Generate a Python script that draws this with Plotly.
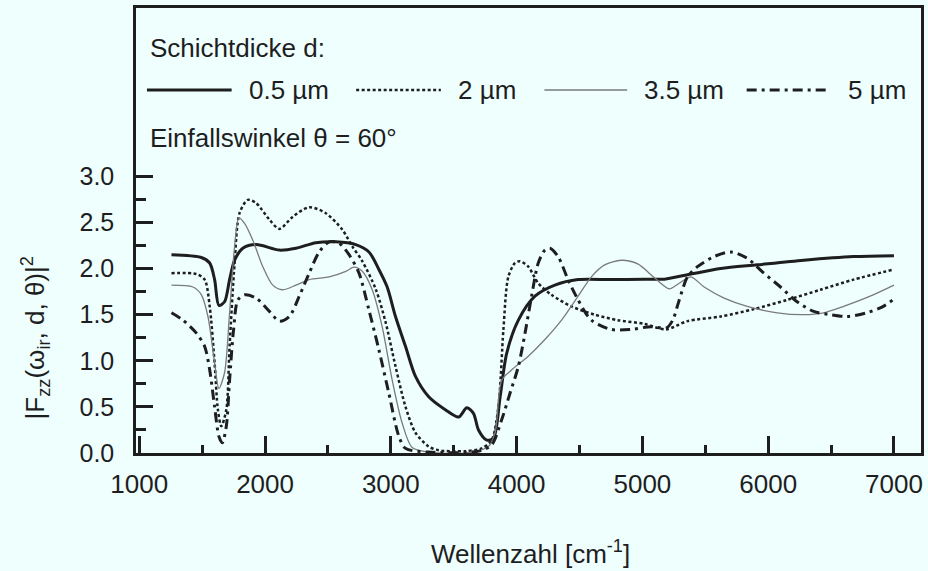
import plotly.graph_objects as go

# Wavenumber (cm^-1) and |F_zz|^2 for four layer thicknesses, incidence angle 60 deg
wn_05 = [1256, 1494, 1560, 1599, 1633, 1678, 1718, 1758, 1823, 1929, 2114, 2246, 2404, 2563,
         2721, 2826, 2905, 2971, 3037, 3117, 3196, 3301, 3433, 3539, 3604, 3657, 3697, 3763,
         3816, 3869, 3921, 4014, 4146, 4304, 4489, 4752, 5016, 5175, 5385, 5623, 5913, 6283,
         6679, 7000]
f_05 = [2.15, 2.12, 2.06, 1.88, 1.60, 1.64, 1.88, 2.09, 2.22, 2.26, 2.20, 2.22, 2.28, 2.29,
        2.26, 2.18, 1.99, 1.80, 1.48, 1.155, 0.83, 0.61, 0.47, 0.39, 0.49, 0.43, 0.25, 0.14,
        0.16, 0.61, 1.08, 1.44, 1.70, 1.82, 1.88, 1.88, 1.885, 1.885, 1.94, 2.00, 2.04, 2.09,
        2.13, 2.14]

wn_2 = [1256, 1454, 1520, 1560, 1599, 1625, 1652, 1692, 1718, 1758, 1797, 1863, 1929, 2035,
        2114, 2219, 2351, 2483, 2615, 2694, 2773, 2879, 2958, 3037, 3117, 3196, 3301, 3380,
        3592, 3723, 3802, 3855, 3895, 3934, 3987, 4027, 4093, 4172, 4277, 4435, 4620, 4805,
        5016, 5187, 5359, 5623, 5887, 6151, 6415, 6679, 7000]
f_2 = [1.95, 1.94, 1.88, 1.59, 0.975, 0.47, 0.29, 0.47, 1.155, 2.06, 2.60, 2.745, 2.71, 2.53,
       2.43, 2.56, 2.665, 2.60, 2.42, 2.24, 2.08, 1.78, 1.42, 0.94, 0.50, 0.22, 0.07, 0.03,
       0.02, 0.05, 0.14, 0.50, 1.34, 1.91, 2.06, 2.08, 2.02, 1.84, 1.715, 1.59, 1.50, 1.44,
       1.40, 1.34, 1.43, 1.48, 1.56, 1.66, 1.77, 1.88, 1.99]

wn_35 = [1256, 1427, 1494, 1546, 1599, 1633, 1678, 1718, 1758, 1792, 1837, 1902, 1982, 2061,
         2140, 2246, 2351, 2510, 2642, 2707, 2773, 2852, 2931, 3011, 3090, 3169, 3300, 3600,
         3776, 3829, 3881, 3960, 4093, 4225, 4357, 4489, 4594, 4700, 4831, 4963, 5096, 5214,
         5293, 5385, 5491, 5650, 5834, 6072, 6283, 6441, 6600, 6811, 7000]
f_35 = [1.82, 1.80, 1.715, 1.48, 0.975, 0.70, 0.87, 1.52, 2.24, 2.55, 2.49, 2.31, 2.02, 1.82,
        1.77, 1.82, 1.88, 1.91, 1.97, 2.015, 1.97, 1.77, 1.37, 0.79, 0.325, 0.06, 0.01, 0.0,
        0.07, 0.22, 0.79, 0.90, 1.05, 1.23, 1.44, 1.70, 1.91, 2.04, 2.09, 2.05, 1.90, 1.78,
        1.84, 1.91, 1.80, 1.68, 1.59, 1.52, 1.50, 1.52, 1.59, 1.70, 1.82]

wn_5 = [1256, 1348, 1454, 1520, 1560, 1599, 1633, 1660, 1692, 1718, 1750, 1784, 1837, 1929,
        2035, 2114, 2193, 2272, 2351, 2430, 2510, 2589, 2668, 2747, 2826, 2905, 2984, 3064,
        3117, 3300, 3697, 3802, 3881, 3948, 4014, 4067, 4119, 4172, 4225, 4265, 4330, 4409,
        4489, 4594, 4752, 4910, 5069, 5190, 5241, 5293, 5359, 5438, 5570, 5702, 5834, 5966,
        6098, 6230, 6362, 6494, 6626, 6784, 6916, 7000]
f_5 = [1.52, 1.44, 1.30, 1.155, 0.90, 0.50, 0.18, 0.11, 0.29, 0.79, 1.34, 1.66, 1.715, 1.68,
       1.535, 1.43, 1.48, 1.70, 1.95, 2.18, 2.29, 2.275, 2.15, 1.95, 1.55, 1.12, 0.65, 0.18,
       0.05, 0.01, 0.02, 0.09, 0.36, 0.65, 0.94, 1.30, 1.70, 2.06, 2.20, 2.22, 2.13, 1.88,
       1.66, 1.44, 1.34, 1.34, 1.37, 1.355, 1.44, 1.66, 1.91, 2.02, 2.13, 2.18, 2.11, 1.95,
       1.80, 1.64, 1.535, 1.50, 1.48, 1.52, 1.59, 1.67]

thickness_labels = ["0.5 \u00b5m", "2 \u00b5m", "3.5 \u00b5m", "5 \u00b5m"]
x_ticks = [1000, 2000, 3000, 4000, 5000, 6000, 7000]
x_minor = [1500, 2500, 3500, 4500, 5500, 6500]
y_ticks = [0.0, 0.5, 1.0, 1.5, 2.0, 2.5, 3.0]
y_minor = [0.25, 0.75, 1.25, 1.75, 2.25, 2.75]

INK = "#1e1e1e"
BG = "#eefffe"
FONT = "Liberation Sans, Arial, Helvetica, sans-serif"

W, H = 928, 571
ML, MR, MT, MB = 136, 4, 8, 118
PW, PH = W - ML - MR, H - MT - MB

styles = [
    dict(color=INK, width=3, dash="solid"),
    dict(color=INK, width=2.5, dash="3px,2.5px"),
    dict(color="#7a7a7a", width=1.3, dash="solid"),
    dict(color=INK, width=3, dash="10px,5px,3px,5px"),
]
series = [(wn_05, f_05), (wn_2, f_2), (wn_35, f_35), (wn_5, f_5)]


def px(xp):
    return (xp - ML) / PW


def py(yp):
    return (H - MB - yp) / PH


fig = go.Figure()
for (xs, ys), st, name in zip(series, styles, thickness_labels):
    fig.add_trace(go.Scatter(
        x=xs, y=ys, mode="lines", name=name, showlegend=False,
        line=dict(color=st["color"], width=st["width"], dash=st["dash"],
                  shape="spline", smoothing=0.8),
    ))

# legend block drawn inside the frame
annotations = [
    dict(text="Schichtdicke d:", x=px(148), y=py(48)),
    dict(text="Einfallswinkel \u03b8 = 60\u00b0", x=px(148), y=py(138)),
]
key_spans = [(147, 232, 247), (357, 442, 457), (546, 629, 644), (749, 832, 849)]
shapes = []
for (x0, x1, xt), st, name in zip(key_spans, styles, thickness_labels):
    shapes.append(dict(type="line", xref="paper", yref="paper",
                       x0=px(x0), x1=px(x1), y0=py(90), y1=py(90),
                       line=dict(color=st["color"], width=st["width"], dash=st["dash"])))
    annotations.append(dict(text=name, x=px(xt), y=py(90)))
for a in annotations:
    a.update(xref="paper", yref="paper", xanchor="left", yanchor="middle",
             showarrow=False, font=dict(family=FONT, size=26, color=INK))

# axis titles
annotations.append(dict(
    text="|F<sub>zz</sub>(\u03c9<sub>ir</sub>, d, \u03b8)|<sup>2</sup>",
    x=px(35), y=py(338), xref="paper", yref="paper", textangle=-90,
    xanchor="center", yanchor="middle", showarrow=False,
    font=dict(family=FONT, size=26, color=INK)))
annotations.append(dict(
    text="Wellenzahl [cm<sup>-1</sup>]",
    x=px(532), y=py(552), xref="paper", yref="paper",
    xanchor="center", yanchor="middle", showarrow=False,
    font=dict(family=FONT, size=26, color=INK)))

fig.update_layout(
    width=W, height=H,
    margin=dict(l=ML, r=MR, t=MT, b=MB),
    paper_bgcolor=BG, plot_bgcolor=BG,
    annotations=annotations, shapes=shapes,
    xaxis=dict(range=[974, 7215], showgrid=False, zeroline=False,
               showline=True, mirror=True, linecolor=INK, linewidth=2.5,
               ticks="inside", tickvals=x_ticks, ticklen=17, tickwidth=2.5, tickcolor=INK,
               ticklabelstandoff=6,
               tickfont=dict(family=FONT, size=26, color=INK),
               minor=dict(tickvals=x_minor, ticks="inside", ticklen=8, tickwidth=2.5,
                          tickcolor=INK, showgrid=False)),
    yaxis=dict(range=[0, 4.825], showgrid=False, zeroline=False,
               showline=True, mirror=True, linecolor=INK, linewidth=2.5,
               ticks="inside", tickvals=y_ticks, ticktext=[f"{v:.1f}" for v in y_ticks],
               ticklen=17, tickwidth=2.5, tickcolor=INK,
               ticklabelstandoff=14,
               tickfont=dict(family=FONT, size=25, color=INK),
               minor=dict(tickvals=y_minor, ticks="inside", ticklen=10, tickwidth=2.5,
                          tickcolor=INK, showgrid=False)),
)

fig.write_html("out.html")
